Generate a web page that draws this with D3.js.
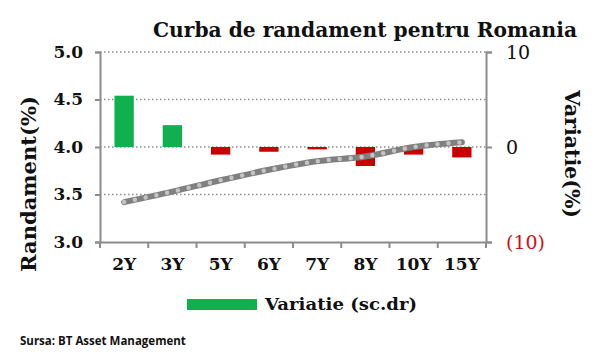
<!DOCTYPE html>
<html>
<head>
<meta charset="utf-8">
<script src="https://cdn.jsdelivr.net/npm/d3@7"></script>
<style>
  body { margin: 0; background: #fff; }
  text { font-family: "DejaVu Serif", serif; }
</style>
</head>
<body>
<div id="chart-area"></div>
<script>
// data
const maturities = ["2Y", "3Y", "5Y", "6Y", "7Y", "8Y", "10Y", "15Y"];
const randament = [3.42, 3.53, 3.65, 3.76, 3.85, 3.90, 4.00, 4.05];
const variatie = [5.4, 2.3, -0.8, -0.5, -0.25, -2.0, -0.8, -1.1];
const leftTicks = [3.0, 3.5, 4.0, 4.5, 5.0];
const rightTicks = [-10, 0, 10];

const W = 600, H = 364;
const margin = {top: 52, right: 114, bottom: 122, left: 100},
    width = W - margin.left - margin.right,
    height = H - margin.top - margin.bottom;

const svg = d3.select("#chart-area")
  .append("svg")
    .attr("width", W)
    .attr("height", H);

const g = svg.append("g")
    .attr("transform", `translate(${margin.left}, ${margin.top})`);

const x = d3.scaleBand()
  .domain(maturities)
  .range([0, width])
  .paddingInner(0.6)
  .paddingOuter(0.3);

const y = d3.scaleLinear()
  .domain([3, 5])
  .range([height, 0]);

const y2 = d3.scaleLinear()
  .domain([-10, 10])
  .range([height, 0]);

const axisGray = "#8c8c8c";

// dotted gridlines
g.selectAll(".grid")
  .data(leftTicks.filter(d => d > 3))
  .enter()
  .append("line")
    .attr("x1", 0)
    .attr("x2", width)
    .attr("y1", d => y(d))
    .attr("y2", d => y(d))
    .attr("stroke", "#8c8c8c")
    .attr("stroke-width", 1.5)
    .attr("stroke-dasharray", "1.5,2.5");

// bars (right axis)
g.selectAll(".bar")
  .data(variatie)
  .enter()
  .append("rect")
    .attr("x", (d, i) => x(maturities[i]))
    .attr("y", d => y2(Math.max(0, d)))
    .attr("width", x.bandwidth())
    .attr("height", d => Math.abs(y2(d) - y2(0)))
    .attr("fill", d => d >= 0 ? "#10b04e" : "#c80000");

// left axis
const leftAxis = g.append("g")
  .call(d3.axisLeft(y).tickValues(leftTicks).tickFormat(d3.format(".1f")).tickSize(5).tickPadding(12));
leftAxis.select(".domain").attr("stroke", axisGray).attr("stroke-width", 2);
leftAxis.selectAll(".tick line").attr("stroke", axisGray).attr("stroke-width", 2);
leftAxis.selectAll(".tick text")
  .attr("font-size", 17).attr("font-weight", "bold").attr("fill", "#111")
  .style("font-family", "DejaVu Serif");

// right axis
const rightAxis = g.append("g")
  .attr("transform", `translate(${width}, 0)`)
  .call(d3.axisRight(y2).tickValues(rightTicks)
    .tickFormat(d => d < 0 ? `(${Math.abs(d)})` : d).tickSize(6).tickPadding(14));
rightAxis.select(".domain").attr("stroke", axisGray).attr("stroke-width", 2);
rightAxis.selectAll(".tick line").attr("stroke", axisGray).attr("stroke-width", 2);
rightAxis.selectAll(".tick text")
  .attr("font-size", 19).attr("fill", d => d < 0 ? "#d01010" : "#111")
  .style("font-family", "DejaVu Serif");

// bottom axis with ticks at band boundaries
const bottomAxis = g.append("g")
  .attr("transform", `translate(0, ${height})`)
  .call(d3.axisBottom(x).tickSize(0).tickPadding(16));
bottomAxis.select(".domain").attr("stroke", axisGray).attr("stroke-width", 2);
bottomAxis.selectAll(".tick text")
  .attr("font-size", 17).attr("font-weight", "bold").attr("fill", "#111")
  .style("font-family", "DejaVu Serif");
bottomAxis.selectAll(".bound")
  .data(maturities.concat(["end"]))
  .enter()
  .append("line")
    .attr("x1", (d, i) => i * x.step())
    .attr("x2", (d, i) => i * x.step())
    .attr("y1", 0)
    .attr("y2", 6)
    .attr("stroke", axisGray)
    .attr("stroke-width", 2);

// yield curve
const line = d3.line()
  .x((d, i) => x(maturities[i]) + x.bandwidth() / 2)
  .y(d => y(d))
  .curve(d3.curveMonotoneX);

g.append("path")
  .datum(randament)
  .attr("d", line)
  .attr("fill", "none")
  .attr("stroke", "#808080")
  .attr("stroke-width", 6)
  .attr("stroke-linecap", "round");

g.append("path")
  .datum(randament)
  .attr("d", line)
  .attr("fill", "none")
  .attr("stroke", "#c4c4c4")
  .attr("stroke-width", 4.5)
  .attr("stroke-linecap", "round")
  .attr("stroke-dasharray", "0,11");

// title
svg.append("text")
  .attr("x", 365)
  .attr("y", 37)
  .attr("text-anchor", "middle")
  .attr("font-size", 20)
  .attr("font-weight", "bold")
  .attr("fill", "#111")
  .attr("textLength", 424)
  .attr("lengthAdjust", "spacingAndGlyphs")
  .text("Curba de randament pentru Romania");

// axis titles
svg.append("text")
  .attr("transform", "translate(36, 184) rotate(-90)")
  .attr("text-anchor", "middle")
  .attr("font-size", 21)
  .attr("font-weight", "bold")
  .attr("fill", "#111")
  .attr("textLength", 176)
  .attr("lengthAdjust", "spacingAndGlyphs")
  .text("Randament(%)");

svg.append("text")
  .attr("transform", "translate(565, 154) rotate(90)")
  .attr("text-anchor", "middle")
  .attr("font-size", 21)
  .attr("font-weight", "bold")
  .attr("fill", "#111")
  .attr("textLength", 128)
  .attr("lengthAdjust", "spacingAndGlyphs")
  .text("Variatie(%)");

// legend
svg.append("rect")
  .attr("x", 187)
  .attr("y", 299)
  .attr("width", 70)
  .attr("height", 11)
  .attr("fill", "#10b04e");

svg.append("text")
  .attr("x", 265)
  .attr("y", 310)
  .attr("font-size", 17)
  .attr("font-weight", "bold")
  .attr("fill", "#111")
  .attr("textLength", 152)
  .attr("lengthAdjust", "spacingAndGlyphs")
  .text("Variatie (sc.dr)");

// source
svg.append("text")
  .attr("x", 20)
  .attr("y", 345)
  .attr("font-size", 11.5)
  .attr("font-weight", "bold")
  .attr("fill", "#111")
  .style("font-family", "Open Sans, sans-serif")
  .text("Sursa: BT Asset Management");
</script>
</body>
</html>
